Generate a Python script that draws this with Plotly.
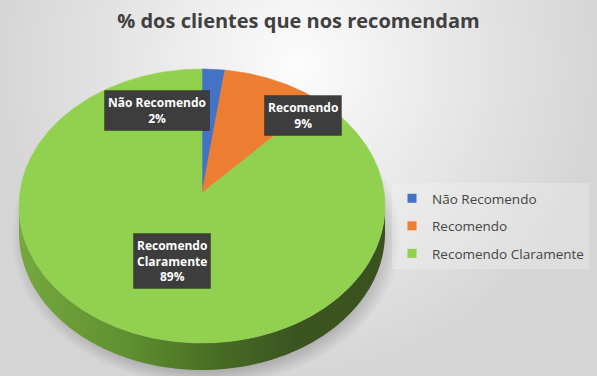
import numpy as np
import plotly.graph_objects as go

# ---------------- data ----------------
categories = ["Não Recomendo", "Recomendo", "Recomendo Claramente"]
values = [2, 9, 89]
title_text = "% dos clientes que nos recomendam"

# ---------------- style / layout ----------------
colors = ["#4472C4", "#ED7D31", "#92D050"]
W, H = 597, 376
CX, CY = 202, 206      # centre of top-face ellipse (pixels)
RX, RY = 183, 137      # radii of the top face
VX, VY = 202, 193      # apex of slices (perspective centre)
DEPTH = 27             # thickness of 3-D side
LABEL_POS = [(157, 110), (303, 115), (172, 261)]
FONT = "Open Sans"

fig = go.Figure()

# background radial gradient
fig.add_trace(go.Scatter(
    x=[-5, W + 5, W + 5, -5, -5], y=[-250, -250, H + 5, H + 5, -250],
    fill="toself", mode="none",
    fillgradient=dict(type="radial",
                      colorscale=[[0, "#fcfcfc"], [0.55, "#e6e6e6"], [1, "#d5d5d5"]]),
    hoverinfo="skip", showlegend=False))

# soft drop shadow
t = np.radians(np.linspace(0, 360, 241))
fig.add_trace(go.Scatter(
    x=CX + 4 + (RX + 12) * np.cos(t), y=CY + DEPTH + 4 - (RY + 12) * np.sin(t),
    fill="toself", mode="none",
    fillgradient=dict(type="radial",
                      colorscale=[[0, "rgba(0,0,0,0.25)"], [0.9, "rgba(0,0,0,0.18)"],
                                  [1, "rgba(0,0,0,0)"]]),
    hoverinfo="skip", showlegend=False))

# 3-D side (front, lower half of the ellipse)
ts = np.radians(np.linspace(180, 360, 200))
sx = CX + RX * np.cos(ts)
sy = CY - RY * np.sin(ts)
fig.add_trace(go.Scatter(
    x=list(sx) + list(sx[::-1]), y=list(sy + DEPTH) + list(sy[::-1]),
    fill="toself", mode="none",
    fillgradient=dict(type="horizontal",
                      colorscale=[[0, "#76a83f"], [0.3, "#5f8f30"], [0.55, "#466b24"],
                                  [0.75, "#3b5520"], [1, "#3a521f"]]),
    hoverinfo="skip", showlegend=False))

# top-face slices, clockwise from 12 o'clock
total = float(sum(values))
start = 90.0
for cat, v, col in zip(categories, values, colors):
    sweep = 360.0 * v / total
    th = np.radians(np.linspace(start, start - sweep, max(int(sweep * 2), 8)))
    xs = CX + RX * np.cos(th)
    ys = CY - RY * np.sin(th)
    fig.add_trace(go.Scatter(
        x=[VX] + list(xs) + [VX], y=[VY] + list(ys) + [VY],
        fill="toself", mode="lines", line=dict(color=col, width=0.6),
        fillcolor=col, name=cat, hoverinfo="name", showlegend=False))
    start -= sweep

# legend entries
for cat, col in zip(categories, colors):
    fig.add_trace(go.Scatter(
        x=[None], y=[None], mode="markers", name=cat, legendgroup=cat,
        marker=dict(symbol="square", size=9, color=col)))

# data labels
for cat, v, (lx, ly) in zip(categories, values, LABEL_POS):
    name = cat.replace(" ", "<br>") if len(cat) > 15 else cat
    txt = f"<b>{name}<br>{round(100 * v / total)}%</b>"
    fig.add_annotation(x=lx, y=ly, xref="x", yref="y", text=txt, showarrow=False,
                       font=dict(family=FONT, size=12, color="white"),
                       bgcolor="#3d3d3d", borderpad=3,
                       bordercolor="rgba(0,0,0,0.25)", borderwidth=1)

fig.update_layout(
    width=W, height=H, autosize=False,
    margin=dict(l=0, r=0, t=0, b=0),
    paper_bgcolor="#e0e0e0", plot_bgcolor="#e0e0e0",
    xaxis=dict(range=[0, W], visible=False, fixedrange=True),
    yaxis=dict(range=[H, 0], visible=False, fixedrange=True),
    title=dict(text=f"<b>{title_text}</b>", x=0.5, xanchor="center",
               y=1 - 21 / H, yanchor="middle",
               font=dict(family=FONT, size=20, color="#404040")),
    legend=dict(x=392 / W, y=1 - 183 / H, xanchor="left", yanchor="top",
                bgcolor="rgba(245,245,245,0.3)", tracegroupgap=7,
                font=dict(family=FONT, size=13.5, color="#454545"),
                itemclick=False, itemdoubleclick=False),
    showlegend=True,
)

fig.write_html("out.html", config={"displayModeBar": False},
               post_script="document.body.style.margin='0px';")
